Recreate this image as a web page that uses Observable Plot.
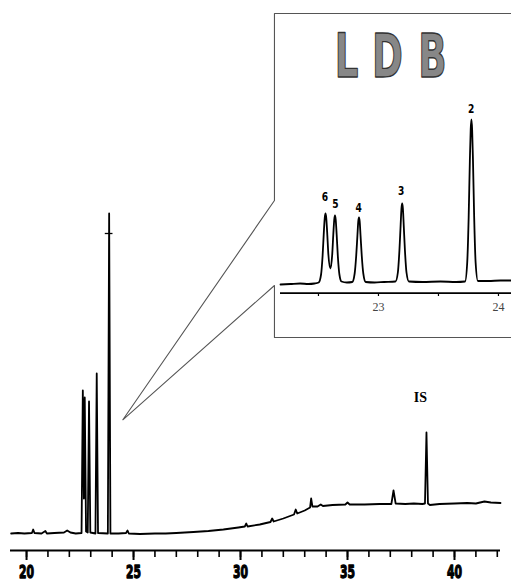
<!DOCTYPE html>
<html>
<head>
<meta charset="utf-8">
<script src="https://cdn.jsdelivr.net/npm/d3@7"></script>
<script src="https://cdn.jsdelivr.net/npm/@observablehq/plot@0.6"></script>
<style>
  body { margin: 0; background: white; }
  #wrap { position: relative; width: 511px; height: 582px; overflow: hidden; background: white; }
  #inset { position: absolute; }
</style>
</head>
<body>
<div id="wrap"><div id="main"></div><div id="inset"></div></div>
<script>
// ---------- main chromatogram (time in min, detector signal) ----------
const mainTrace = [
  [19.28, 7], [19.6, 7.5], [19.9, 7], [20.25, 7.5], [20.31, 11], [20.37, 7.5],
  [20.7, 7], [20.88, 9.5], [20.95, 7], [21.3, 7.5], [21.75, 8], [21.9, 10],
  [22.05, 8], [22.3, 7], [22.57, 7.5], [22.63, 150], [22.68, 42], [22.72, 143],
  [22.78, 9], [22.86, 8], [22.92, 139], [22.98, 8], [23.22, 7], [23.28, 167],
  [23.34, 7.5], [23.80, 7], [23.86, 327], [23.92, 7], [24.3, 7], [24.65, 7.5],
  [24.72, 10], [24.78, 7], [25.3, 6.5], [26.0, 7], [26.5, 7], [27.0, 7.5],
  [27.8, 8.5], [28.5, 9.5], [29.2, 11], [29.9, 13], [30.2, 14], [30.27, 17],
  [30.33, 14], [30.9, 16], [31.4, 18.5], [31.48, 22], [31.55, 19], [32.0, 22],
  [32.5, 26], [32.58, 31], [32.65, 27], [33.0, 30], [33.25, 33], [33.3, 42],
  [33.36, 34], [33.6, 34], [33.75, 36], [33.85, 34.5], [34.3, 35.5], [34.9, 36],
  [35.0, 38], [35.1, 36], [35.8, 36], [36.5, 36.5], [37.05, 36.5], [37.15, 50],
  [37.25, 37], [37.7, 36.5], [38.1, 37], [38.5, 36.5], [38.62, 37], [38.69, 108],
  [38.76, 37], [38.85, 35.5], [39.3, 36.5], [40.0, 37], [40.6, 37.5], [41.0, 37],
  [41.4, 39], [41.7, 38], [42.15, 37.5]
];
const mainMinorTicks = d3.range(20, 43);
const mainMajorTicks = [20, 25, 30, 35, 40];
const peakCrossbar = [{t: 23.86, s: 307, half: 0.18}];
const isLabel = [{t: 38.41, s: 143, text: "IS"}];
// inset box outline + callout (main coords)
const calloutTime   = [42.9, 31.586, 31.586, 24.50, 31.586, 31.586, 42.9];
const calloutSignal = [527, 527, 340, 120.7, 255, 203, 203];

// ---------- inset (LDB) ----------
const insetTrace = [
  [22.217, -2], [22.30, -1.5], [22.38, -1], [22.45, -1.5], [22.50, -1], [22.535, 0],
  [22.555, 8], [22.568, 27], [22.578, 50], [22.586, 65], [22.592, 69], [22.598, 65],
  [22.606, 50], [22.616, 28], [22.633, 14], [22.648, 28], [22.657, 48], [22.665, 63],
  [22.671, 67], [22.677, 63], [22.685, 48], [22.695, 26], [22.708, 8], [22.725, 1],
  [22.77, 0], [22.815, 0.5], [22.835, 9], [22.848, 27], [22.858, 47], [22.865, 61],
  [22.871, 65], [22.877, 61], [22.884, 47], [22.894, 27], [22.907, 9], [22.927, 0.5],
  [23.00, 0], [23.08, 0.5], [23.175, 1], [23.195, 10], [23.208, 32], [23.218, 57],
  [23.225, 74], [23.231, 79], [23.237, 74], [23.244, 57], [23.254, 32], [23.267, 10],
  [23.287, 1], [23.40, 0.5], [23.55, 1], [23.68, 0.5], [23.755, 1], [23.773, 20],
  [23.785, 65], [23.795, 122], [23.802, 153], [23.808, 163], [23.814, 153], [23.821, 122],
  [23.831, 65], [23.843, 20], [23.862, 1.5], [23.95, 1.5], [24.05, 2], [24.142, 2]
];
const insetTicks = [22.5, 23, 23.5, 24];
const insetTickLabels = [23, 24];
const peakNames = ["6", "5", "4", "3", "2"];
const peakLabelTime = [22.588, 22.675, 22.869, 23.223, 23.806];
const peakLabelSignal = [86, 79, 75, 92, 174];
const titleLetters = ["L", "D", "B"];
const titleLetterTime = [22.767, 23.108, 23.483];
const titleSignal = 225;

const HEAVY = "'DejaVu Sans', sans-serif";
const SERIF = "'Liberation Serif', 'DejaVu Serif', serif";

// squeeze text glyphs horizontally around their own x anchor (condensed look)
function condense(nodes, k) {
  nodes.forEach(n => {
    const x = parseFloat(n.getAttribute("x")) || 0;
    const tr = n.getAttribute("transform") || "";
    n.setAttribute("transform", `${tr} translate(${x},0) scale(${k},1) translate(${-x},0)`);
  });
}

const mainData = mainTrace.map(([t, s]) => ({t, s}));
const callout = calloutTime.map((t, i) => ({t, s: calloutSignal[i]}));

const main = Plot.plot({
  width: 511, height: 582,
  marginLeft: 10, marginRight: 11, marginTop: 0, marginBottom: 32,
  style: {background: "white", overflow: "visible"},
  x: {domain: [19.25, 42.15], range: [10, 500], label: null},
  y: {domain: [-10, 330], range: [550, 210], axis: null, label: null},
  marks: [
    Plot.line(callout, {x: "t", y: "s", stroke: "#555", strokeWidth: 1.1}),
    Plot.ruleY([-10], {stroke: "black", strokeWidth: 2}),
    Plot.axisX({ticks: mainMinorTicks, tickSize: 7, tickFormat: () => "", strokeWidth: 1.6, label: null}),
    Plot.axisX({ticks: mainMajorTicks, tickSize: 10, tickPadding: 5, strokeWidth: 2, label: null,
      fontSize: 18, fontWeight: "bold", fontFamily: HEAVY, fill: "black"}),
    Plot.line(mainData, {x: "t", y: "s", stroke: "black", strokeWidth: 1.8, strokeLinejoin: "round"}),
    Plot.ruleY(peakCrossbar, {y: "s", x1: d => d.t - d.half, x2: d => d.t + d.half, stroke: "black", strokeWidth: 1.3}),
    Plot.text(isLabel, {x: "t", y: "s", text: "text", fontFamily: SERIF, fontWeight: "bold", fontSize: 14, fill: "black"})
  ]
});
document.getElementById("main").appendChild(main);
// main tick labels: heavy condensed numerals
const mainTickTexts = Array.from(main.querySelectorAll("text")).filter(n => /^\d+$/.test(n.textContent.trim()));
mainTickTexts.forEach(n => {
  n.setAttribute("font-weight", "bold");
  n.setAttribute("font-size", "18");
  n.setAttribute("font-family", HEAVY);
  n.style.fontWeight = "bold";
  n.style.stroke = "black";
  n.style.strokeWidth = "1.3px";
  n.style.strokeLinejoin = "round";
});
condense(mainTickTexts, 0.6);

const sx = main.scale("x"), sy = main.scale("y");
const insetLeft = sx.apply(calloutTime[1]);
const insetTop = sy.apply(calloutSignal[0]);
const insetW = 511 - Math.round(insetLeft);
const insetH = Math.round(sy.apply(calloutSignal[5]) - insetTop);

const insetData = insetTrace.map(([t, s]) => ({t, s}));
const peakLabels = peakNames.map((n, i) => ({n, t: peakLabelTime[i], s: peakLabelSignal[i]}));
const letters = titleLetters.map((l, i) => ({l, t: titleLetterTime[i], s: titleSignal}));

const inset = Plot.plot({
  width: insetW, height: insetH,
  marginLeft: 0, marginRight: 0, marginTop: 0, marginBottom: insetH - 280,
  style: {background: "none", overflow: "visible"},
  x: {domain: [22.167, 22.167 + insetW / 120], range: [0, insetW], label: null},
  y: {domain: [-11, 269], range: [280, 0], axis: null, label: null},
  marks: [
    Plot.ruleY([-10.7], {x1: 22.217, x2: 22.167 + insetW / 120, stroke: "black", strokeWidth: 1.8}),
    Plot.axisX({ticks: insetTicks, tickSize: 3, tickPadding: 6, strokeWidth: 1.2, label: null,
      tickFormat: d => insetTickLabels.includes(d) ? String(d) : "",
      fontFamily: SERIF, fontSize: 12, fill: "#444", dx: 4}),
    Plot.line(insetData, {x: "t", y: "s", stroke: "black", strokeWidth: 1.8, curve: "monotone-x", strokeLinejoin: "round"}),
    Plot.text(peakLabels, {x: "t", y: "s", text: "n", fontFamily: HEAVY, fontWeight: "bold", fontSize: 13, fill: "black"}),
    Plot.text(letters, {x: "t", y: "s", text: "l", fontFamily: HEAVY, fontWeight: "bold", fontSize: 60,
      fill: "#878787", stroke: "#333", strokeWidth: 1.4, paintOrder: "fill"})
  ]
});
const insetDiv = document.getElementById("inset");
insetDiv.style.left = insetLeft + "px";
insetDiv.style.top = insetTop + "px";
insetDiv.appendChild(inset);
const insetTexts = Array.from(inset.querySelectorAll("text"));
condense(insetTexts.filter(n => titleLetters.includes(n.textContent.trim())), 0.62);
condense(insetTexts.filter(n => peakNames.includes(n.textContent.trim())), 0.7);
</script>
</body>
</html>
